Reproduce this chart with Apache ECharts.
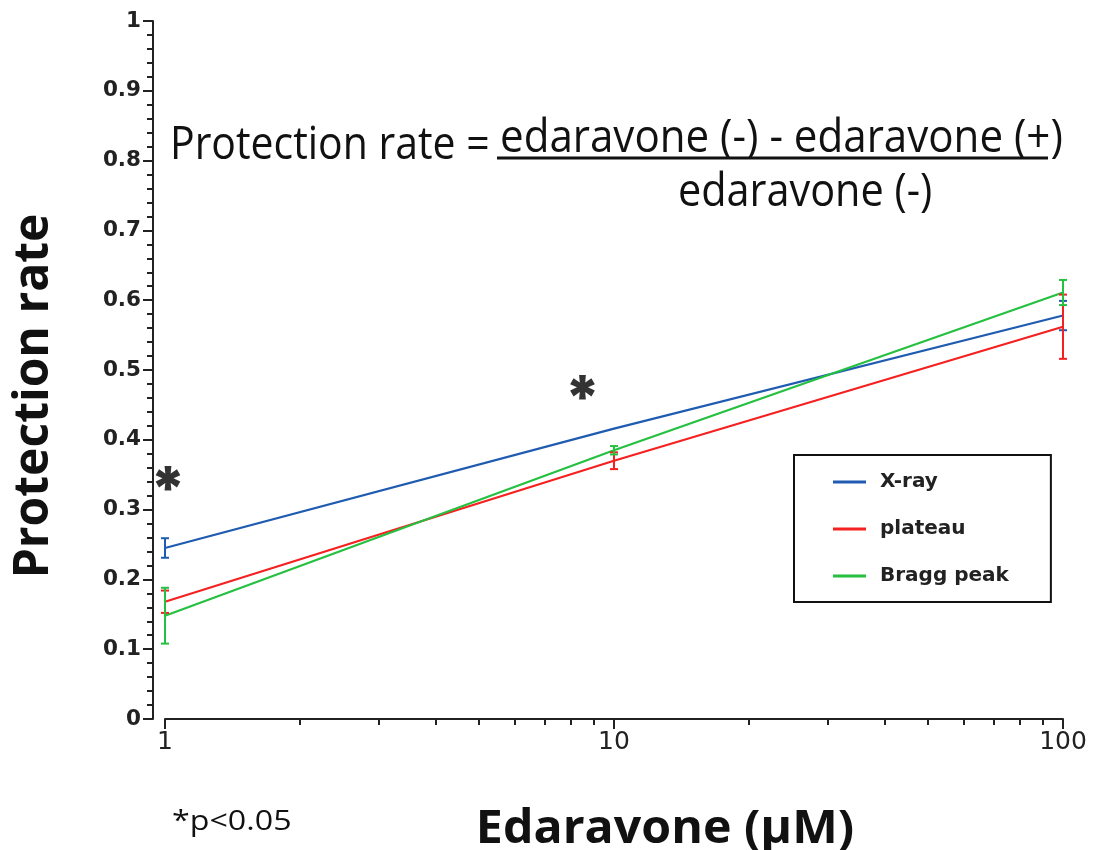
<!DOCTYPE html>
<html>
<head>
<meta charset="utf-8">
<script src="https://cdn.jsdelivr.net/npm/echarts@6/dist/echarts.min.js"></script>
<style>
  html, body { margin: 0; padding: 0; background: #fff; }
  #chart { width: 1094px; height: 850px; }
</style>
</head>
<body>
<div id="chart"></div>
<script>
// Edaravone dose (µM) and protection rate per radiation type (mean ± error)
const doses = [1, 10, 100];
const xrayMean = [0.245, 0.416, 0.578];
const xrayErr = [0.014, 0, 0.021];
const plateauMean = [0.168, 0.370, 0.562];
const plateauErr = [0.016, 0.012, 0.046];
const braggMean = [0.148, 0.385, 0.611];
const braggErr = [0.040, 0.006, 0.018];
const seriesNames = ['X-ray', 'plateau', 'Bragg peak'];
const seriesColors = ['#1f5bb0', '#f52020', '#25c040'];
const xMinorTicks = [2, 3, 4, 5, 6, 7, 8, 9, 20, 30, 40, 50, 60, 70, 80, 90];
// significance markers (dose, level)
const sigDose = [1.0155, 8.51];
const sigLevel = [0.343, 0.4725];

const means = [xrayMean, plateauMean, braggMean];
const errs = [xrayErr, plateauErr, braggErr];

function lineSeries(i) {
  return {
    type: 'line',
    name: seriesNames[i],
    data: doses.map((d, k) => [d, means[i][k]]),
    symbol: 'none',
    showSymbol: false,
    lineStyle: { color: seriesColors[i], width: 2.2 },
    itemStyle: { color: seriesColors[i] },
    z: 3,
    silent: true
  };
}

function errorSeries(i) {
  const color = seriesColors[i];
  return {
    type: 'custom',
    name: seriesNames[i],
    data: doses.map((d, k) => [d, means[i][k] - errs[i][k], means[i][k] + errs[i][k]]),
    encode: { x: 0, y: [1, 2] },
    clip: false,
    silent: true,
    z: 4,
    renderItem(params, api) {
      if (api.value(2) - api.value(1) <= 0) return null;
      const lo = api.coord([api.value(0), api.value(1)]);
      const hi = api.coord([api.value(0), api.value(2)]);
      const w = 4;
      const st = { stroke: color, lineWidth: 2 };
      return {
        type: 'group',
        children: [
          { type: 'line', shape: { x1: lo[0], y1: lo[1], x2: hi[0], y2: hi[1] }, style: st },
          { type: 'line', shape: { x1: lo[0] - w, y1: lo[1], x2: lo[0] + w, y2: lo[1] }, style: st },
          { type: 'line', shape: { x1: hi[0] - w, y1: hi[1], x2: hi[0] + w, y2: hi[1] }, style: st }
        ]
      };
    }
  };
}

const axisColor = '#222';

const option = {
  backgroundColor: '#fff',
  animation: false,
  grid: { left: 165, right: 31, top: 21, bottom: 131, containLabel: false },
  xAxis: [
    {
      type: 'log',
      logBase: 10,
      min: 1,
      max: 100,
      position: 'bottom',
      axisLine: { show: true, lineStyle: { color: axisColor, width: 2 } },
      axisTick: { show: true, length: 10, lineStyle: { color: axisColor, width: 2 } },
      axisLabel: { color: axisColor, fontFamily: 'DejaVu Sans', fontSize: 25, margin: 11 },
      splitLine: { show: false },
      minorTick: { show: false }
    },
    {
      type: 'log',
      logBase: 10,
      min: 1,
      max: 100,
      position: 'bottom',
      axisLine: { show: false },
      axisTick: { show: true, customValues: xMinorTicks, length: 6, lineStyle: { color: axisColor, width: 2 } },
      axisLabel: { show: false },
      splitLine: { show: false }
    }
  ],
  yAxis: {
    type: 'value',
    min: 0,
    max: 1,
    interval: 0.1,
    offset: 12,
    axisLine: { show: true, lineStyle: { color: axisColor, width: 2 } },
    axisTick: { show: true, length: 10, lineStyle: { color: axisColor, width: 2 } },
    minorTick: { show: true, splitNumber: 5, length: 6, lineStyle: { color: axisColor, width: 2 } },
    axisLabel: { color: axisColor, fontFamily: 'DejaVu Sans', fontWeight: 'bold', fontSize: 21.5, margin: 12 },
    splitLine: { show: false }
  },
  legend: {
    orient: 'vertical',
    left: 794,
    top: 455,
    padding: [15, 42, 14, 39],
    itemWidth: 33,
    itemHeight: 3,
    itemGap: 23,
    borderColor: '#111',
    borderWidth: 2,
    backgroundColor: '#fff',
    selectedMode: false,
    textStyle: { fontFamily: 'DejaVu Sans', fontWeight: 'bold', fontSize: 20, color: '#222', lineHeight: 24, padding: [0, 0, 0, 9] },
    data: seriesNames.map((n, i) => ({ name: n, icon: 'rect', itemStyle: { color: seriesColors[i] } }))
  },
  series: [
    lineSeries(0), lineSeries(1), lineSeries(2),
    errorSeries(0), errorSeries(1), errorSeries(2),
    {
      type: 'scatter',
      name: 'sig',
      data: sigDose.map((d, k) => [d, sigLevel[k]]),
      symbolSize: 1,
      itemStyle: { color: 'rgba(0,0,0,0)' },
      silent: true,
      z: 5,
      label: {
        show: true,
        formatter: '*',
        position: 'inside',
        fontFamily: 'Inter',
        fontWeight: 900,
        fontSize: 60,
        color: '#000',
        offset: [0, 12]
      }
    }
  ],
  graphic: [
    // axis titles
    {
      type: 'text', x: 34, y: 396, rotation: Math.PI / 2,
      style: { text: 'Protection rate', fontFamily: 'Open Sans', fontWeight: 'bold', fontSize: 48, fill: '#111', textAlign: 'center', textVerticalAlign: 'middle' }
    },
    {
      type: 'text', x: 665, y: 830, scaleX: 1.05,
      style: { text: 'Edaravone (μM)', fontFamily: 'Open Sans', fontWeight: 'bold', fontSize: 46, fill: '#111', textAlign: 'center', textVerticalAlign: 'middle' }
    },
    {
      type: 'text', x: 172, y: 822, scaleX: 1.15,
      style: { text: '*p<0.05', fontFamily: 'Open Sans', fontSize: 28, fill: '#111', textAlign: 'left', textVerticalAlign: 'middle' }
    },
    // protection-rate formula
    {
      type: 'text', x: 170, y: 146, scaleX: 0.89,
      style: { text: 'Protection rate =', fontFamily: 'Open Sans', fontSize: 46, fill: '#111', textAlign: 'left', textVerticalAlign: 'middle' }
    },
    {
      type: 'text', x: 500, y: 139, scaleX: 0.915,
      style: { text: 'edaravone (-) - edaravone (+)', fontFamily: 'Open Sans', fontSize: 46, fill: '#111', textAlign: 'left', textVerticalAlign: 'middle' }
    },
    {
      type: 'line', shape: { x1: 497, y1: 158, x2: 1048, y2: 158 },
      style: { stroke: '#111', lineWidth: 3 }
    },
    {
      type: 'text', x: 678, y: 193, scaleX: 0.9,
      style: { text: 'edaravone (-)', fontFamily: 'Open Sans', fontSize: 46, fill: '#111', textAlign: 'left', textVerticalAlign: 'middle' }
    }
  ]
};

const chart = echarts.init(document.getElementById('chart'), null, { renderer: 'canvas' });
chart.setOption(option);
</script>
</body>
</html>
